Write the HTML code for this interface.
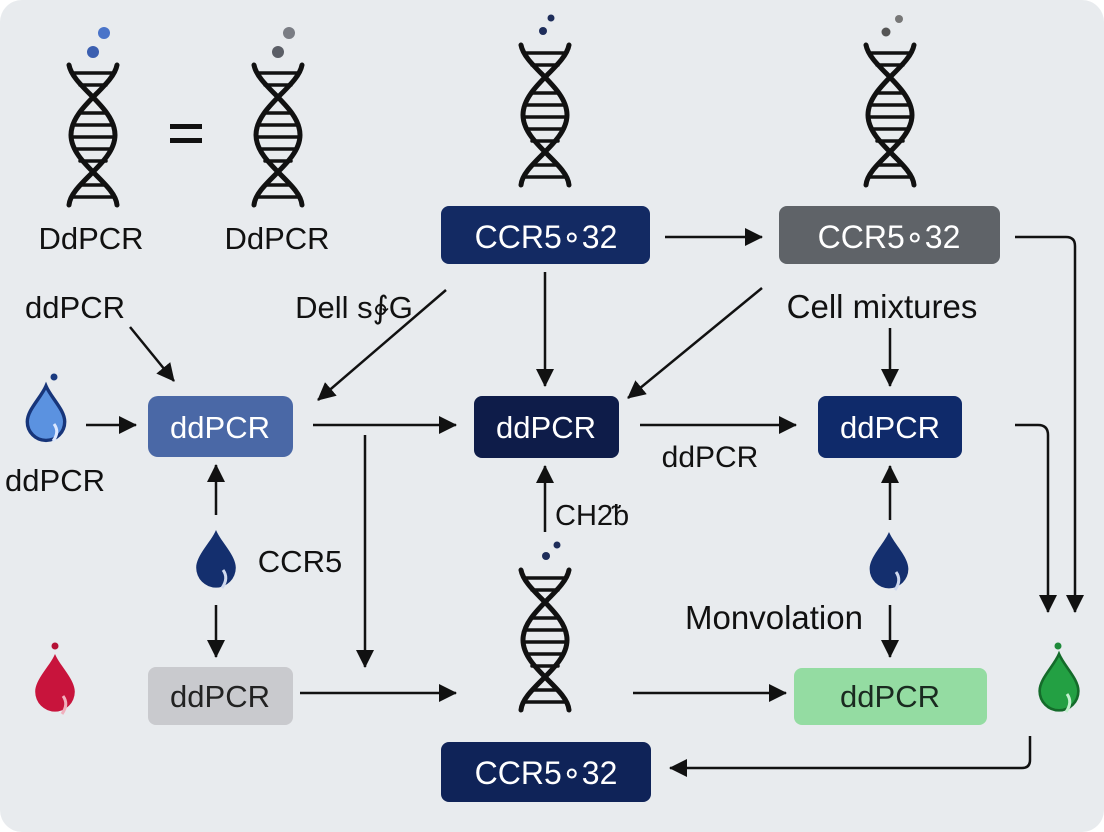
<!DOCTYPE html>
<html><head><meta charset="utf-8"><style>
html,body{margin:0;padding:0;background:#fff}
svg{display:block}
text{font-family:"Liberation Sans",sans-serif}
</style></head><body>
<svg width="1104" height="832" viewBox="0 0 1104 832" xmlns="http://www.w3.org/2000/svg">
<defs>
<marker id="ahb" markerWidth="18" markerHeight="18" refX="17" refY="9" orient="auto" markerUnits="userSpaceOnUse"><path d="M0,0 L18,9 L0,18 Z" fill="#111"/></marker>
<g id="dna" fill="none" stroke="#111" stroke-width="5" stroke-linecap="round">
<path d="M1,0 C5,22 47,42 47,70 C47,98 3,118 1,140"/>
<path d="M49,0 C45,22 3,42 3,70 C3,98 47,118 49,140"/>
<g stroke-width="3.5">
<line x1="5" y1="8" x2="45" y2="8"/><line x1="12" y1="20" x2="38" y2="20"/>
<line x1="12" y1="48" x2="38" y2="48"/><line x1="5" y1="60" x2="45" y2="60"/><line x1="4" y1="72" x2="46" y2="72"/><line x1="6" y1="84" x2="44" y2="84"/><line x1="12" y1="96" x2="38" y2="96"/>
<line x1="12" y1="120" x2="38" y2="120"/><line x1="5" y1="132" x2="45" y2="132"/>
</g>
</g>
<path id="drop" d="M0,0 C6,14 22,28 22,42 A22,22 0 0 1 -22,42 C-22,28 -6,14 0,0 Z"/>
</defs>
<rect x="0" y="0" width="1104" height="832" rx="22" fill="#e8ebee"/>

<use href="#dna" x="68" y="65"/>
<circle cx="93" cy="52" r="6" fill="#3b5fb0"/><circle cx="104" cy="33" r="6" fill="#4a74c9"/>
<use href="#dna" x="253" y="65"/>
<circle cx="278" cy="52" r="6" fill="#5b5e66"/><circle cx="289" cy="33" r="6" fill="#7a7d84"/>
<text x="91" y="249" font-size="31" text-anchor="middle" fill="#111">DdPCR</text>
<text x="277" y="249" font-size="31" text-anchor="middle" fill="#111">DdPCR</text>
<rect x="170" y="124" width="32" height="5" fill="#111"/><rect x="170" y="138" width="32" height="5" fill="#111"/>

<use href="#dna" x="520" y="45"/>
<circle cx="543" cy="31" r="4" fill="#1e2d5a"/><circle cx="551" cy="18" r="3.5" fill="#1e2d5a"/>
<use href="#dna" x="865" y="45"/>
<circle cx="886" cy="32" r="4.5" fill="#555"/><circle cx="899" cy="19" r="4" fill="#777"/>

<rect x="441" y="206" width="209" height="58" rx="8" fill="#132a63"/>
<text x="546" y="248" font-size="32" text-anchor="middle" fill="#fff">CCR5∘32</text>
<rect x="779" y="206" width="221" height="58" rx="8" fill="#5f6368"/>
<text x="889" y="248" font-size="32" text-anchor="middle" fill="#fff">CCR5∘32</text>
<line x1="665" y1="237" x2="762" y2="237" stroke="#111" stroke-width="2.5" marker-end="url(#ahb)"/>
<path d="M1015,237 L1066,237 Q1075,237 1075,246 L1075,612" fill="none" stroke="#111" stroke-width="2.5" marker-end="url(#ahb)"/>

<text x="75" y="318" font-size="31" text-anchor="middle" fill="#111">ddPCR</text>
<line x1="130" y1="327" x2="174" y2="381" stroke="#111" stroke-width="2.5" marker-end="url(#ahb)"/>
<text x="354" y="318" font-size="31" text-anchor="middle" fill="#111">Dell s∲G</text>
<line x1="446" y1="290" x2="318" y2="400" stroke="#111" stroke-width="2.5" marker-end="url(#ahb)"/>
<line x1="545" y1="272" x2="545" y2="386" stroke="#111" stroke-width="2.5" marker-end="url(#ahb)"/>
<line x1="762" y1="288" x2="628" y2="398" stroke="#111" stroke-width="2.5" marker-end="url(#ahb)"/>
<text x="882" y="318" font-size="33" text-anchor="middle" fill="#111">Cell mixtures</text>
<line x1="890" y1="328" x2="890" y2="386" stroke="#111" stroke-width="2.5" marker-end="url(#ahb)"/>

<circle cx="54" cy="377" r="3.5" fill="#1a3a80"/>
<use href="#drop" transform="translate(46,386) scale(0.85)" fill="#5b92e0" stroke="#17357a" stroke-width="4"/>
<path d="M54,424 Q60,432 53,441" fill="none" stroke="#dce8ff" stroke-width="3"/>
<text x="55" y="491" font-size="31" text-anchor="middle" fill="#111">ddPCR</text>
<line x1="86" y1="425" x2="136" y2="425" stroke="#111" stroke-width="2.5" marker-end="url(#ahb)"/>
<rect x="148" y="396" width="145" height="61" rx="10" fill="#4a68a6"/>
<text x="220" y="438" font-size="31" text-anchor="middle" fill="#fff">ddPCR</text>
<line x1="313" y1="425" x2="456" y2="425" stroke="#111" stroke-width="2.5" marker-end="url(#ahb)"/>
<rect x="474" y="396" width="145" height="62" rx="8" fill="#0e1c49"/>
<text x="546" y="438" font-size="31" text-anchor="middle" fill="#fff">ddPCR</text>
<line x1="640" y1="425" x2="796" y2="425" stroke="#111" stroke-width="2.5" marker-end="url(#ahb)"/>
<text x="710" y="467" font-size="30" text-anchor="middle" fill="#111">ddPCR</text>
<rect x="818" y="396" width="144" height="62" rx="8" fill="#0f2a6a"/>
<text x="890" y="438" font-size="31" text-anchor="middle" fill="#fff">ddPCR</text>
<path d="M1015,425 L1038,425 Q1048,425 1048,435 L1048,612" fill="none" stroke="#111" stroke-width="2.5" marker-end="url(#ahb)"/>

<line x1="365" y1="435" x2="365" y2="667" stroke="#111" stroke-width="2.5" marker-end="url(#ahb)"/>

<line x1="216" y1="515" x2="216" y2="465" stroke="#111" stroke-width="2.5" marker-end="url(#ahb)"/>
<use href="#drop" transform="translate(216,530) scale(0.9)" fill="#142f6e"/>
<path d="M223,570 Q229,578 222,588" fill="none" stroke="#cfd9ee" stroke-width="3"/>
<text x="300" y="572" font-size="31" text-anchor="middle" fill="#111">CCR5</text>
<line x1="216" y1="605" x2="216" y2="657" stroke="#111" stroke-width="2.5" marker-end="url(#ahb)"/>

<line x1="545" y1="532" x2="545" y2="466" stroke="#111" stroke-width="2.5" marker-end="url(#ahb)"/>
<text x="555" y="525" font-size="29" fill="#111">CH2ᵬ</text>
<use href="#dna" x="520" y="570"/>
<circle cx="546" cy="556" r="4" fill="#1e2d5a"/><circle cx="557" cy="545" r="3.5" fill="#1e2d5a"/>

<line x1="890" y1="520" x2="890" y2="466" stroke="#111" stroke-width="2.5" marker-end="url(#ahb)"/>
<use href="#drop" transform="translate(889,532) scale(0.88)" fill="#142f6e"/>
<path d="M896,572 Q902,580 895,590" fill="none" stroke="#cfd9ee" stroke-width="3"/>
<text x="774" y="629" font-size="33" text-anchor="middle" fill="#111">Monvolation</text>
<line x1="890" y1="605" x2="890" y2="657" stroke="#111" stroke-width="2.5" marker-end="url(#ahb)"/>

<circle cx="55" cy="646" r="3.5" fill="#b51236"/>
<use href="#drop" transform="translate(55,654) scale(0.9)" fill="#c8143c"/>
<path d="M63,696 Q69,704 62,714" fill="none" stroke="#f0b0bd" stroke-width="3"/>
<rect x="148" y="667" width="145" height="58" rx="8" fill="#c9cace"/>
<text x="220" y="707" font-size="31" text-anchor="middle" fill="#222">ddPCR</text>
<line x1="300" y1="693" x2="456" y2="693" stroke="#111" stroke-width="2.5" marker-end="url(#ahb)"/>
<line x1="633" y1="693" x2="786" y2="693" stroke="#111" stroke-width="2.5" marker-end="url(#ahb)"/>
<rect x="794" y="668" width="193" height="57" rx="8" fill="#94dca2"/>
<text x="890" y="707" font-size="31" text-anchor="middle" fill="#1a2a20">ddPCR</text>
<circle cx="1058" cy="646" r="3.5" fill="#1e8a3a"/>
<use href="#drop" transform="translate(1059,654) scale(0.88)" fill="#23a043" stroke="#146b2a" stroke-width="3"/>
<path d="M1067,694 Q1073,702 1066,712" fill="none" stroke="#c4f0cf" stroke-width="3"/>

<rect x="441" y="742" width="210" height="60" rx="8" fill="#0f2358"/>
<text x="546" y="784" font-size="32" text-anchor="middle" fill="#fff">CCR5∘32</text>
<path d="M1030,736 L1030,760 Q1030,768 1022,768 L670,768" fill="none" stroke="#111" stroke-width="2.5" marker-end="url(#ahb)"/>
</svg>
</body></html>
